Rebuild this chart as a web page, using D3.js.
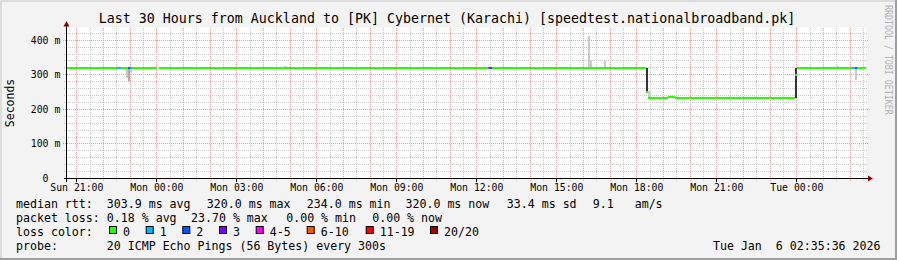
<!DOCTYPE html>
<html><head><meta charset="utf-8">
<script src="https://cdn.jsdelivr.net/npm/d3@7"></script>
<style>
html,body{margin:0;padding:0;background:#f3f3f3;}
svg{display:block;}
text{font-family:"DejaVu Sans Mono",monospace;white-space:pre;}
</style></head><body>
<svg id="c" width="897" height="260" xml:space="preserve"></svg>
<script>
// ---------------- DATA ----------------
const titleText = "Last 30 Hours from Auckland to [PK] Cybernet (Karachi) [speedtest.nationalbroadband.pk]";
const startTime = "2026-01-04 20:35:36";
const endTime   = "2026-01-06 02:35:36";
const stepMinutes = 5;

const yTicks = [0, 100, 200, 300, 400];
const yTickLabels = ["0", "100 m", "200 m", "300 m", "400 m"];

// median rtt (ms) as runs: value holds from runStart[i] until runStart[i+1]
const runStart = ["2026-01-04 20:35","2026-01-04 22:30","2026-01-04 22:40","2026-01-04 22:55","2026-01-04 23:00",
  "2026-01-04 23:05","2026-01-05 00:00","2026-01-05 00:05","2026-01-05 12:25","2026-01-05 12:30",
  "2026-01-05 12:35","2026-01-05 18:20","2026-01-05 18:25","2026-01-05 19:10","2026-01-05 19:25",
  "2026-01-05 23:55","2026-01-06 00:00","2026-01-06 02:05","2026-01-06 02:10","2026-01-06 02:15",
  "2026-01-06 02:35"];
const runMedian = [320,320,320,320,320, 320,null,320,320,320, 320,250,234,236,234, 300,320,320,320,320, null];
const runLoss   = [0,1,0,2,1, 0,null,0,4,2, 0,0,0,0,0, 0,0,1,2,0, null];

// smoke (ping spread) per 5-minute step
const smokeTime = ["2026-01-04 22:50","2026-01-04 22:55","2026-01-04 23:00","2026-01-05 04:45","2026-01-05 06:45",
  "2026-01-05 12:20","2026-01-05 16:10","2026-01-05 16:15","2026-01-05 16:45","2026-01-05 18:20",
  "2026-01-05 18:25","2026-01-05 23:55","2026-01-06 01:30","2026-01-06 02:10"];
const smokeLo    = [290,283,305,318,318, 318,318,318,318,250, 234,234,318,284];
const smokeHi    = [320,320,320,324,323, 323,411,344,339,320, 252,320,324,320];
const smokeDepth = [0,1,0,0,0, 0,0,0,0,2, 0,2,0,0];

const lossThresholds = [0, 1, 2, 3, 5, 10, 19, 20];
const lossLabels = ["0", "1", "2", "3", "4-5", "6-10", "11-19", "20/20"];
const lossColors = ["#26ff00", "#00b8ff", "#0059ff", "#7e00ff", "#ff00ff", "#ff5500", "#ff0000", "#a10000"];

const rttLabel = "median rtt:";
const rttStats = ["303.9 ms avg", "320.0 ms max", "234.0 ms min", "320.0 ms now", "33.4 ms sd", "9.1   am/s"];
const lossLabel = "packet loss:";
const lossStats = ["0.18 % avg", "23.70 % max", "0.00 % min", "0.00 % now"];
const colorLabel = "loss color:";
const probeLabel = "probe:";
const probeText = "20 ICMP Echo Pings (56 Bytes) every 300s";
const stampText = "Tue Jan  6 02:35:36 2026";
const yTitle = "Seconds";
const watermark = "RRDTOOL / TOBI OETIKER";

// ---------------- LAYOUT ----------------
const W = 897, H = 260;
const svg = d3.select("#c");
const parseM = d3.utcParse("%Y-%m-%d %H:%M");
const parseS = d3.utcParse("%Y-%m-%d %H:%M:%S");

const x = d3.scaleUtc().domain([parseS(startTime), parseS(endTime)]).range([66, 866]);
const y = d3.scaleLinear().domain([0, 437]).range([178.5, 27.4]);
const px = v => Math.floor(v) + 0.5;

// background & frame
svg.append("rect").attr("width", W).attr("height", H).attr("fill", "#f3f3f3");
svg.append("rect").attr("x", 0).attr("y", 0).attr("width", W).attr("height", 2).attr("fill", "#dcdcdc");
svg.append("rect").attr("x", 0).attr("y", 0).attr("width", 2).attr("height", H).attr("fill", "#dcdcdc");
svg.append("rect").attr("x", 0).attr("y", H - 2).attr("width", W).attr("height", 2).attr("fill", "#9e9e9e");
svg.append("rect").attr("x", W - 2).attr("y", 0).attr("width", 2).attr("height", H).attr("fill", "#9e9e9e");

// canvas
const [x0, x1] = x.range();
const yTop = y.range()[1], yBot = y.range()[0];
svg.append("rect").attr("x", x0).attr("y", yTop).attr("width", x1 - x0).attr("height", yBot - yTop).attr("fill", "#fff");

// grid
const g = svg.append("g").attr("shape-rendering", "crispEdges");
const minorCol = "#c8c8c8", majorCol = "#f29a9a";
const minorX = x.ticks(d3.utcMinute.every(30)).filter(d => d.getUTCMinutes() !== 0);
const majorX = x.ticks(d3.utcHour.every(1));
g.selectAll(".vmin").data(minorX).join("line")
  .attr("x1", d => px(x(d))).attr("x2", d => px(x(d))).attr("y1", yBot + 2).attr("y2", yTop)
  .attr("stroke", minorCol).attr("stroke-dasharray", "1,1");
g.selectAll(".vmaj").data(majorX).join("line")
  .attr("x1", d => px(x(d))).attr("x2", d => px(x(d))).attr("y1", yBot + 2).attr("y2", yTop)
  .attr("stroke", majorCol).attr("stroke-dasharray", "1,1");
const minorY = y.ticks(22).filter(v => v % 100 !== 0);
const majorY = yTicks.filter(v => v > 0);
g.selectAll(".hmin").data(minorY).join("line")
  .attr("x1", x0 - 2).attr("x2", x1 + 2).attr("y1", d => px(y(d))).attr("y2", d => px(y(d)))
  .attr("stroke", minorCol).attr("stroke-dasharray", "1,1");
g.selectAll(".hmaj").data(majorY).join("line")
  .attr("x1", x0 - 3).attr("x2", x1 + 2).attr("y1", d => px(y(d))).attr("y2", d => px(y(d)))
  .attr("stroke", majorCol).attr("stroke-dasharray", "1,1");

// smoke
const smokeShades = ["#cacaca", "#acacac", "#333333"];
const smoke = smokeTime.map((t, i) => ({t: parseM(t), lo: smokeLo[i], hi: smokeHi[i], d: smokeDepth[i]}));
svg.append("g").attr("shape-rendering", "crispEdges").selectAll("rect").data(smoke).join("rect")
  .attr("x", d => x(d.t)).attr("width", d => x(d3.utcMinute.offset(d.t, stepMinutes)) - x(d.t))
  .attr("y", d => y(d.hi)).attr("height", d => y(d.lo) - y(d.hi))
  .attr("fill", d => smokeShades[d.d]);

// median line
const lossClass = l => { for (let i = 0; i < lossThresholds.length; i++) if (l <= lossThresholds[i]) return i; return lossThresholds.length - 1; };
const runs = [];
for (let i = 0; i < runStart.length - 1; i++) {
  if (runMedian[i] == null) continue;
  runs.push({a: parseM(runStart[i]), b: parseM(runStart[i + 1]), v: runMedian[i], c: lossClass(runLoss[i])});
}
svg.append("g").selectAll("line").data(runs).join("line")
  .attr("x1", d => x(d.a)).attr("x2", d => x(d.b))
  .attr("y1", d => Math.round(y(d.v))).attr("y2", d => Math.round(y(d.v)))
  .attr("stroke", d => lossColors[d.c]).attr("stroke-width", 2).attr("shape-rendering", "crispEdges");

// axes
const ax = svg.append("g").attr("shape-rendering", "crispEdges");
ax.append("line").attr("x1", x0 - 2).attr("x2", x1 + 3).attr("y1", yBot).attr("y2", yBot).attr("stroke", "#000");
ax.append("line").attr("x1", px(x0)).attr("x2", px(x0)).attr("y1", yBot + 3).attr("y2", yTop - 1).attr("stroke", "#000");
svg.append("path").attr("d", `M${x1 + 2},${yBot - 3}L${x1 + 7},${yBot}L${x1 + 2},${yBot + 3}Z`).attr("fill", "#8b0000");
svg.append("path").attr("d", `M${px(x0) - 3},${yTop - 1}L${px(x0)},${yTop - 6.5}L${px(x0) + 3},${yTop - 1}Z`).attr("fill", "#8b0000");

// x labels & ticks
const labelX = x.ticks(d3.utcHour.every(3));
const fmt = d3.utcFormat("%a %H:%M");
ax.selectAll(".xt").data(labelX).join("line")
  .attr("x1", d => px(x(d))).attr("x2", d => px(x(d))).attr("y1", yBot).attr("y2", yBot + 3).attr("stroke", "#000");
svg.append("g").selectAll("text").data(labelX).join("text")
  .attr("x", d => x(d)).attr("y", 191).attr("text-anchor", "middle")
  .attr("font-size", "9.8px").attr("fill", "#000").text(d => fmt(d));

// y labels: number right-aligned, unit after it
const yl = svg.append("g").attr("font-size", "9.8px").attr("fill", "#000");
yTicks.forEach((v, i) => {
  const parts = yTickLabels[i].split(" ");
  yl.append("text").attr("x", 48.5).attr("y", y(v) + 3.5).attr("text-anchor", "end").text(parts[0]);
  if (parts[1]) yl.append("text").attr("x", 54.4).attr("y", y(v) + 3.5).text(parts[1]);
});

// titles
svg.append("text").attr("x", 447).attr("y", 23).attr("text-anchor", "middle")
  .attr("font-size", "13.3px").attr("fill", "#000").text(titleText);
svg.append("text").attr("transform", `translate(14,${(yTop + yBot) / 2}) rotate(-90)`)
  .attr("text-anchor", "middle").attr("font-size", "11.5px").attr("fill", "#000").text(yTitle);
svg.append("text").attr("transform", "translate(885,5) rotate(90) scale(1,1.3)")
  .attr("font-size", "8.3px").attr("fill", "#b4b4b4").text(watermark);

// legend
const fs = "11.6px";
const leg = svg.append("g").attr("font-size", fs).attr("fill", "#000");
const rowY = [207.5, 221.5, 235.5, 249.5];
leg.append("text").attr("x", 16).attr("y", rowY[0]).text(rttLabel);
const rttX = [106.8, 206.8, 306.8, 405.5, 506.8, 592.8];
rttStats.forEach((s, i) => leg.append("text").attr("x", rttX[i]).attr("y", rowY[0]).text(s));
leg.append("text").attr("x", 16).attr("y", rowY[1]).text(lossLabel);
const lossX = [106.8, 191, 286.2, 372.2];
lossStats.forEach((s, i) => leg.append("text").attr("x", lossX[i]).attr("y", rowY[1]).text(s));
leg.append("text").attr("x", 16).attr("y", rowY[2]).text(colorLabel);
const boxX = [109, 145.7, 182.3, 219, 255.7, 306.7, 365.7, 430];
lossLabels.forEach((l, i) => {
  leg.append("rect").attr("x", boxX[i] + 0.5).attr("y", 226.5).attr("width", 7).attr("height", 7)
    .attr("fill", lossColors[i]).attr("stroke", "#000").attr("stroke-width", 1);
  leg.append("text").attr("x", boxX[i] + 14).attr("y", rowY[2]).text(l);
});
leg.append("text").attr("x", 16).attr("y", rowY[3]).text(probeLabel);
leg.append("text").attr("x", 106.8).attr("y", rowY[3]).text(probeText);
leg.append("text").attr("x", 880.5).attr("y", rowY[3]).attr("text-anchor", "end").text(stampText);
</script>
</body></html>
